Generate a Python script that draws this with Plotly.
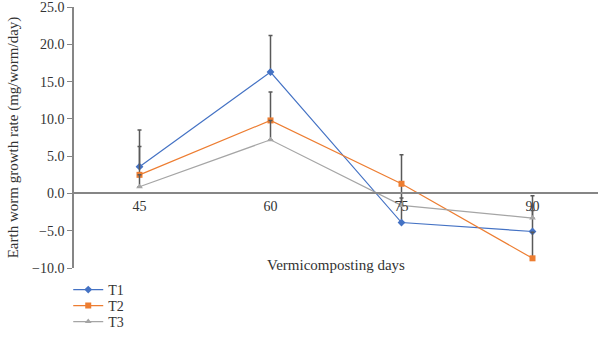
import plotly.graph_objects as go

days = ["45", "60", "75", "90"]
t1 = [3.6, 16.3, -3.9, -5.1]
t2 = [2.5, 9.8, 1.3, -8.7]
t3 = [0.9, 7.2, -1.6, -3.3]
t1_err = [4.9, 4.9, 5.0, 4.8]
t2_err = [3.8, 3.8, 3.9, 3.5]
t3_err = [1.6, 2.6, 1.0, 1.0]
y_ticks = [-10, -5, 0, 5, 10, 15, 20, 25]

series = [
    ("T1", t1, t1_err, "#4472C4", "diamond", 6, "legend"),
    ("T2", t2, t2_err, "#ED7D31", "square", 6, "legend2"),
    ("T3", t3, t3_err, "#A5A5A5", "triangle-up", 6, "legend3"),
]

FONT = "Liberation Serif"
fig = go.Figure()
for name, vals, err, col, sym, sz, lg in series:
    fig.add_trace(go.Scatter(
        x=days, y=vals, name=name, mode="lines+markers", legend=lg,
        line=dict(color=col, width=1.2),
        marker=dict(symbol=sym, size=sz, color=col),
        error_y=dict(type="data", array=err, arrayminus=[0]*len(err), symmetric=False,
                     color="#595959", thickness=1.5, width=2),
    ))

def leg(ypx):
    return dict(x=-0.011, y=-(ypx - 268) / 261.0, xanchor="left", yanchor="middle",
                font=dict(family=FONT, size=14, color="#333333"),
                itemwidth=30, bgcolor="rgba(0,0,0,0)", borderwidth=0)

zero_pos = (0 - (-10)) / (25 - (-10))
fig.update_layout(
    width=600, height=337,
    margin=dict(l=74, r=2, t=7, b=69, autoexpand=False),
    plot_bgcolor="white", paper_bgcolor="white",
    font=dict(family=FONT, size=13, color="#333333"),
    showlegend=True,
    legend=leg(290), legend2=leg(306), legend3=leg(322),
    xaxis=dict(type="category", range=[-0.5, 3.5], anchor="free", position=zero_pos,
               showline=True, linecolor="#868686", linewidth=2,
               ticks="", showgrid=False, zeroline=False,
               tickfont=dict(family=FONT, size=14, color="#333333")),
    yaxis=dict(range=[-10, 25.02], tickvals=y_ticks, tickformat=".1f",
               showline=True, linecolor="#868686", linewidth=1.5,
               ticks="outside", ticklen=5, tickcolor="#868686",
               showgrid=False, zeroline=False,
               tickfont=dict(family=FONT, size=14, color="#333333"),
               title=dict(text="Earth worm growth rate (mg/worm/day)",
                          font=dict(family=FONT, size=15, color="#333333"), standoff=10)),
    annotations=[dict(text="Vermicomposting days", xref="paper", yref="paper",
                      x=0.5, y=(268 - 265) / 261.0, yanchor="middle", xanchor="center",
                      showarrow=False, font=dict(family=FONT, size=15, color="#333333"))],
)
fig.write_html("out.html")
